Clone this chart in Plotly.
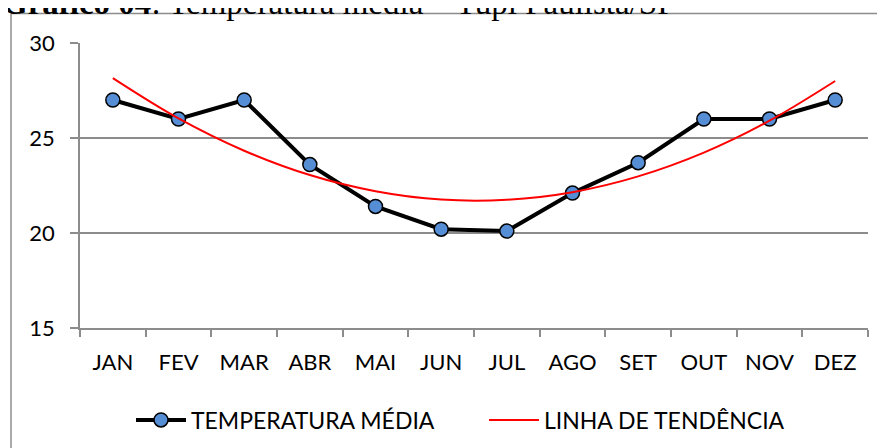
import plotly.graph_objects as go

months = ["JAN", "FEV", "MAR", "ABR", "MAI", "JUN", "JUL", "AGO", "SET", "OUT", "NOV", "DEZ"]
temperatura = [27.0, 26.0, 27.0, 23.6, 21.4, 20.2, 20.1, 22.1, 23.7, 26.0, 26.0, 27.0]
tendencia = [28.15, 26.03, 24.33, 23.05, 22.2, 21.76, 21.75, 22.15, 22.98, 24.23, 25.91, 28.0]
y_ticks = [15, 20, 25, 30]

FONT = "Lato"
GRID = "#8c8c8c"

fig = go.Figure()
fig.add_trace(go.Scatter(
    x=months, y=temperatura, name="TEMPERATURA MÉDIA",
    mode="lines+markers",
    line=dict(color="black", width=4),
    marker=dict(symbol="circle", size=14, color="#558ED5", line=dict(color="black", width=1.5)),
))
fig.add_trace(go.Scatter(
    x=months, y=tendencia, name="LINHA DE TENDÊNCIA",
    mode="lines",
    line=dict(color="#FF0000", width=2, shape="spline"),
))

# page body has an 8px margin: work in screen pixels, convert to figure pixels
OFF = 8
W, H = 885 - OFF, 448 - OFF
PL, PR, PT, PB = 80 - OFF, 868 - OFF, 43 - OFF, 328 - OFF
L, R, T, B = PL, W - PR, PT, H - PB
pw, ph = PR - PL, PB - PT

def px(sx):
    return (sx - OFF - PL) / pw

def py(sy):
    return (PB - (sy - OFF)) / ph

fig.update_layout(
    width=W, height=H,
    margin=dict(l=L, r=R, t=T, b=B, pad=0, autoexpand=False),
    paper_bgcolor="white", plot_bgcolor="white",
    font=dict(family=FONT, size=22, color="black"),
    showlegend=True,
    legend=dict(orientation="h", x=px(484), xanchor="center", y=py(420), yanchor="middle",
                font=dict(family=FONT, size=23, color="black"),
                itemwidth=50, entrywidth=288, tracegroupgap=0, bgcolor="rgba(0,0,0,0)"),
    xaxis=dict(
        type="category", range=[-0.5, 11.5],
        showgrid=False, showline=True, linecolor=GRID, linewidth=1.5,
        ticks="outside", tickson="boundaries", ticklen=7, tickcolor=GRID, tickwidth=1.5,
        tickfont=dict(family=FONT, size=22, color="black"),
        ticklabelstandoff=14,
        fixedrange=True,
    ),
    yaxis=dict(
        range=[15, 30], tickvals=y_ticks,
        showgrid=True, gridcolor=GRID, gridwidth=1.5,
        showline=True, linecolor=GRID, linewidth=1.5,
        ticks="outside", ticklen=8, tickcolor=GRID, tickwidth=1.5,
        tickfont=dict(family=FONT, size=22, color="black"),
        ticklabelstandoff=11,
        zeroline=False, fixedrange=True,
    ),
    annotations=[dict(
        text="<b>Gráfico 04</b>: Temperatura média – Tupi Paulista/SP",
        xref="paper", yref="paper", x=px(0), y=py(3), xanchor="left", yanchor="middle",
        showarrow=False, font=dict(family="Liberation Serif", size=33, color="black"),
    )],
    shapes=[
        dict(type="line", xref="paper", yref="paper", x0=px(11), x1=px(11), y0=py(13.5), y1=py(470),
             line=dict(color=GRID, width=1.5)),
        dict(type="line", xref="paper", yref="paper", x0=px(11), x1=px(900), y0=py(13.5), y1=py(13.5),
             line=dict(color=GRID, width=1.5)),
    ],
)

fig.write_html("out.html")
